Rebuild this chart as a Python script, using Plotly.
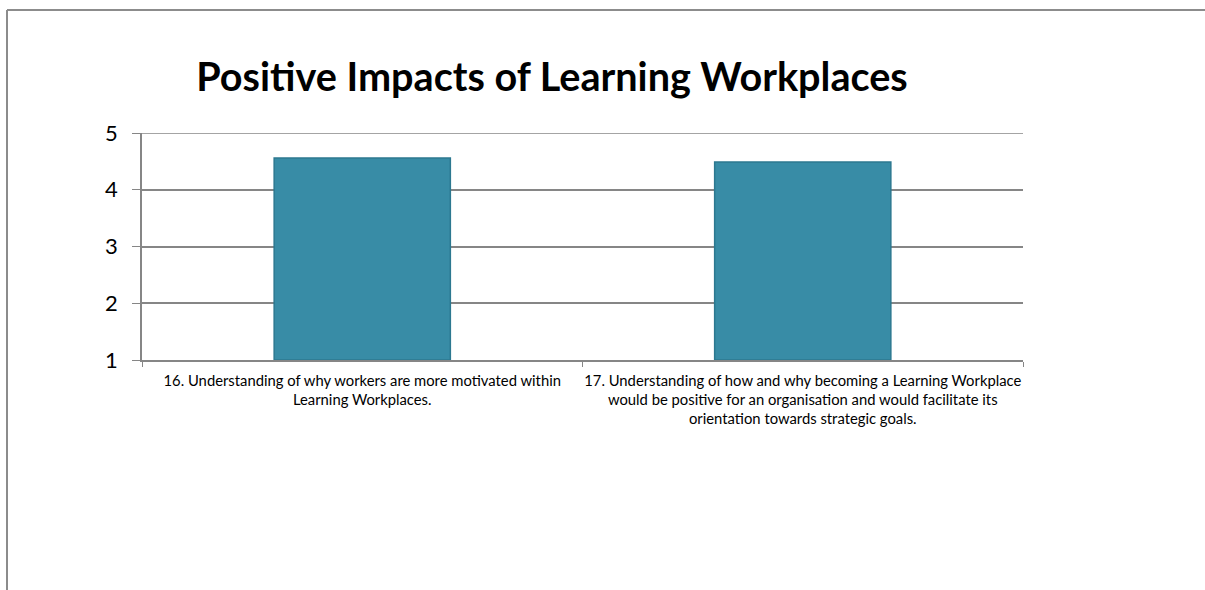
import plotly.graph_objects as go

categories = [
    "16. Understanding of why workers are more motivated within<br>Learning Workplaces.",
    "17. Understanding of how and why becoming a Learning Workplace<br>would be positive for an organisation and would facilitate its<br>orientation towards strategic goals.",
]
values = [4.56, 4.49]
title_text = "Positive Impacts of Learning Workplaces"
y_base = 1
y_max = 5

W, H = 1205, 590
L, R, T, B = 142, 1023, 133, 360

fig = go.Figure()
fig.add_trace(go.Bar(
    x=categories, y=[v - y_base for v in values], base=y_base,
    width=0.4,
    marker=dict(color="#388CA6", line=dict(color="#2C7890", width=1.5)),
    showlegend=False,
))

def px(x):
    return (x - L) / (R - L)

def py(y):
    return (B - y) / (B - T)

fig.update_layout(
    width=W, height=H,
    margin=dict(l=L, r=W - R, t=T, b=H - B, pad=0, autoexpand=False),
    paper_bgcolor="white", plot_bgcolor="white",
    title=dict(text="<b>" + title_text + "</b>", x=px(552), xref="paper", xanchor="center",
               y=1 - 77 / H, yanchor="middle",
               font=dict(family="Lato, 'Open Sans', sans-serif", size=39.6, color="black")),
    font=dict(family="Lato, sans-serif"),
    shapes=[
        dict(type="line", xref="paper", yref="paper", x0=px(7), x1=px(1210), y0=py(10), y1=py(10),
             line=dict(color="#8C8C8C", width=2)),
        dict(type="line", xref="paper", yref="paper", x0=px(7), x1=px(7), y0=py(10), y1=py(600),
             line=dict(color="#8C8C8C", width=2)),
        dict(type="line", xref="paper", yref="y", x0=0, x1=1, y0=y_max, y1=y_max,
             line=dict(color="#868686", width=1.5), layer="below"),
    ],
)
fig.update_xaxes(
    showline=True, linecolor="#868686", linewidth=1.5,
    ticks="outside", tickson="boundaries", ticklen=5, tickcolor="#868686",
    tickfont=dict(family="Lato, sans-serif", size=14.8, color="black"),
    tickangle=0, automargin=False,
    ticklabelstandoff=6,
    showgrid=False,
)
fig.update_yaxes(
    range=[y_base, y_max], tickvals=[1, 2, 3, 4, 5],
    showline=True, linecolor="#868686", linewidth=1.5,
    ticks="outside", ticklen=8, tickcolor="#868686",
    showgrid=True, gridcolor="#868686", gridwidth=1.5,
    tickfont=dict(family="Lato, sans-serif", size=22, color="black"),
    ticklabelstandoff=10, automargin=False,
    zeroline=False,
)
fig.write_html("out.html")
